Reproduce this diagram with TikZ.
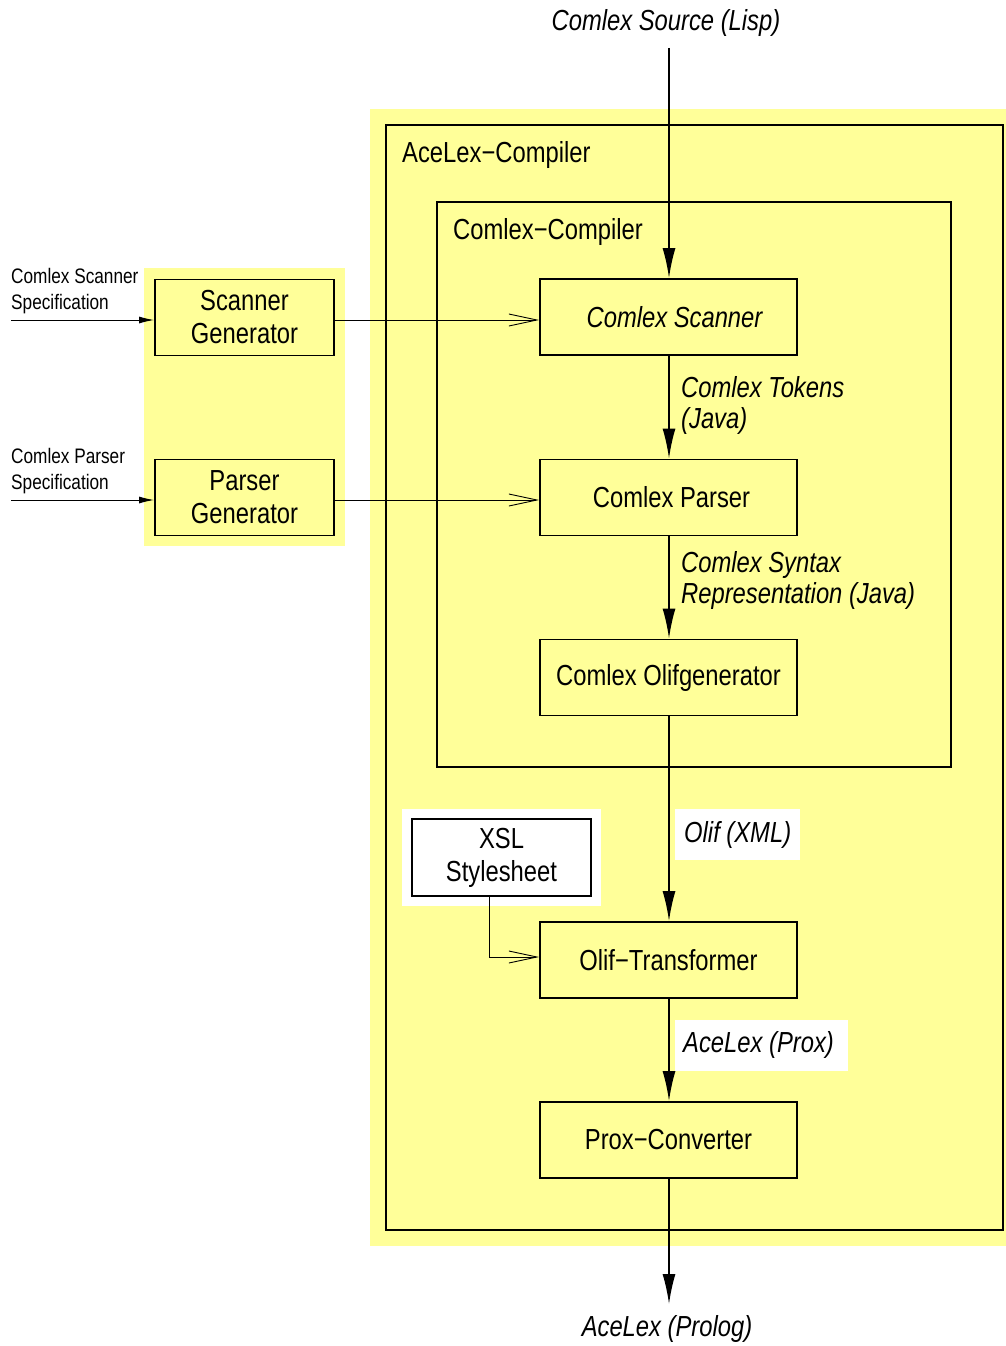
\documentclass[tikz,border=0pt]{standalone}
\usepackage{fontspec}
\setmainfont{Liberation Sans}[FakeStretch=0.82]
\usetikzlibrary{arrows.meta}
\definecolor{paleyellow}{RGB}{255,255,153}
\newcommand\bigtxt{\fontsize{29}{31}\selectfont}
\newcommand\boxtxt{\fontsize{29}{33}\selectfont}
\newcommand\smalltxt{\fontsize{21}{26}\selectfont}

\begin{document}
\begin{tikzpicture}[x=1pt,y=-1pt,
  stage/.style={draw, line width=1.9pt, fill=paleyellow, minimum width=257pt,
    minimum height=76pt, inner sep=0pt, font=\bigtxt},
  genbox/.style={draw, line width=1.9pt, fill=paleyellow, minimum width=179pt,
    minimum height=76pt, inner sep=0pt, align=center, font=\boxtxt},
  frame/.style={draw, line width=1.8pt},
  title/.style={anchor=base west, inner sep=0pt, font=\bigtxt},
  flowlabel/.style={anchor=base west, inner sep=0pt, align=left, font=\bigtxt\itshape},
  whitelabel/.style={anchor=west, fill=white, inner xsep=9pt, inner ysep=0pt,
    minimum height=51pt, font=\bigtxt\itshape},
  speclabel/.style={anchor=base west, inner sep=0pt, align=left, font=\smalltxt},
  flow/.style={line width=1.7pt, -{Latex[length=30pt,width=13pt]}},
  feed/.style={line width=0.9pt, -{Straight Barb[length=28pt,width=12pt,line width=0.9pt]}},
  input/.style={line width=1pt, -{Latex[length=15pt,width=7pt]}}]

\useasboundingbox (0,0) rectangle (1006,1346);

% yellow backgrounds
\fill[paleyellow] (370,109) rectangle (1006,1246);
\fill[paleyellow] (144,268) rectangle (345,546);

% compiler frames
\draw[frame] (386,125) rectangle (1003,1230);
\node[title] (acelexT) at (402,162) {AceLex−Compiler};
\draw[frame] (437,202) rectangle (951,767);
\node[title] (comlexT) at (453,239) {Comlex−Compiler};

% pipeline stages
\node[stage] (scan) at (668.5,317) {\hspace*{12pt}\itshape Comlex Scanner};
\node[stage] (parse) at (668.5,497.5) {\hspace*{6pt}Comlex Parser};
\node[stage] (olifgen) at (668.5,677.5) {Comlex Olifgenerator};
\node[stage] (olift) at (668.5,960) {Olif−Transformer};
\node[stage] (prox) at (668.5,1140) {Prox−Converter};

% generators
\node[genbox] (scangen) at (244.5,317.5) {Scanner\\Generator};
\node[genbox] (parsegen) at (244.5,497.5) {Parser\\Generator};

% XSL stylesheet on white
\fill[white] (402,809) rectangle (601,906);
\node[draw, line width=1.4pt, fill=white, minimum width=179pt, minimum height=77pt,
  inner sep=0pt, align=center, font=\boxtxt] (xsl) at (501.5,857.5) {XSL\\Stylesheet};

% input and output texts
\node[font=\bigtxt\itshape, inner sep=0pt] (src) at (666,23) {Comlex Source (Lisp)};
\node[font=\bigtxt\itshape, inner sep=0pt] (prolog) at (667,1329) {AceLex (Prolog)};

\node[speclabel] (scanspec) at (11,309) {Comlex Scanner\\Specification};
\node[speclabel] (parsespec) at (11,489) {Comlex Parser\\Specification};
\coordinate (scanin) at (11,320);
\coordinate (parsein) at (11,500);

% flow labels
\node[flowlabel] (tokens) at (681,428) {Comlex Tokens\\(Java)};
\node[flowlabel] (syntax) at (681,603) {Comlex Syntax\\Representation (Java)};
\node[whitelabel] (olifxml) at (675,834.5) {Olif (XML)};
\node[whitelabel, inner xsep=8pt] (proxlabel) at (675,1045) {AceLex (Prox)\hspace*{6pt}};

% main flow
\coordinate (srcend) at (669,48);
\coordinate (outend) at (669,1304);
\draw[flow] (srcend) -- (scan.north -| srcend);
\draw[flow] (scan.south -| srcend) -- (parse.north -| srcend);
\draw[flow] (parse.south -| srcend) -- (olifgen.north -| srcend);
\draw[flow] (olifgen.south -| srcend) -- (olift.north -| srcend);
\draw[flow] (olift.south -| srcend) -- (prox.north -| srcend);
\draw[flow] (prox.south -| srcend) -- (outend);

% generator feeds
\draw[feed] (scangen.east |- 0,320) -- (scan.west |- 0,320);
\draw[feed] (parsegen.east |- 0,500) -- (parse.west |- 0,500);
\draw[feed] (xsl.south -| 489,0) |- (olift.west |- 0,957);

% specification inputs
\draw[input] (scanin) -- (scangen.west |- scanin);
\draw[input] (parsein) -- (parsegen.west |- parsein);
\end{tikzpicture}
\end{document}
